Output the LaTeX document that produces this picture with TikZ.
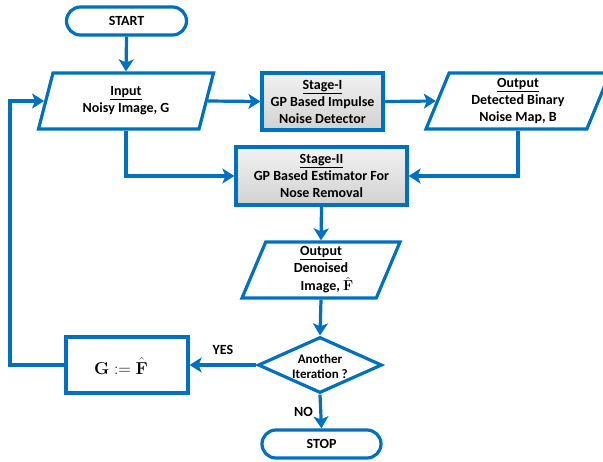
\documentclass[tikz,border=0pt]{standalone}
\usepackage[no-math]{fontspec}
\setmainfont{Carlito}
\usetikzlibrary{shapes.geometric,arrows.meta}
\definecolor{flowblue}{HTML}{0070C0}
\begin{document}
\begin{tikzpicture}[x=1pt,y=-1pt,
  every node/.style={font=\fontsize{14}{17}\selectfont\bfseries, text=black},
  base/.style={draw=flowblue, line width=3.2pt, inner sep=0pt, align=center},
  term/.style={base, rectangle, rounded corners=14pt, minimum width=120pt, minimum height=28pt},
  io/.style={base, trapezium, trapezium left angle=63, trapezium right angle=117,
     trapezium stretches body, minimum height=56pt},
  proc/.style={base, rectangle, top color=white!95!black, bottom color=white!82!black},
  plain/.style={base, rectangle, fill=white},
  decide/.style={base, diamond, minimum width=124pt, minimum height=56pt},
  conn/.style={draw=flowblue, line width=3.2pt, -{Stealth[length=12pt,width=15pt,inset=3pt]}},
  lbl/.style={font=\fontsize{14}{17}\selectfont\bfseries}
]
\useasboundingbox (0,0) rectangle (603,461);

\node[term] (start) at (126.5,21) {START};
\node[io, minimum width=175pt] (in) at (126,101) {\underline{Input}\\Noisy Image, G};
\node[proc, minimum width=121pt, minimum height=57pt] (s1) at (322.5,101.5) {\underline{Stage-I}\\GP Based Impulse\\Noise Detector};
\node[io, minimum width=184pt] (out1) at (518,101) {\underline{Output}\\Detected Binary\\Noise Map, B};
\node[proc, minimum width=171pt, minimum height=58pt] (s2) at (321.5,176) {\underline{Stage-II}\\GP Based Estimator For\\Nose Removal};
\node[io, minimum width=158pt] (out2) at (321,270) {\underline{Output}\\Denoised\\[1pt]\hspace{12pt}Image, $\hat{\mathbf{F}}$};
\node[decide] (dia) at (320,365) {};
\node[font=\fontsize{13}{15}\selectfont\bfseries, align=center] (diat) at (320,366) {Another\\Iteration ?};
\node[plain, minimum width=122pt, minimum height=56pt] (gbox) at (127,365) {};
\node[font=\fontsize{16}{19}\selectfont] (gtext) at (121,366) {$\mathbf{G}\mathrel{:=}\hat{\mathbf{F}}$};
\node[term, minimum width=119pt] (stop) at (321.5,444) {STOP};

\coordinate (lp) at (10,365);

\draw[conn] (start.south) -- (in.north);
\draw[conn] (in.right side) -- (s1.west);
\draw[conn] (s1.east) -- (out1.left side);
\draw[conn] (in.south) |- (s2.west);
\draw[conn] (out1.south) |- (s2.east);
\draw[conn] (s2.south) -- (out2.north);
\draw[conn] (out2.south) -- (dia.north);
\draw[conn] (dia.west) -- node[lbl, above=5pt] (yes) {YES} (gbox.east);
\draw[conn] (dia.south) -- node[lbl, left=3pt] (no) {NO} (stop.north);
\draw[conn] (gbox.west) -- (lp) |- (in.left side);
\end{tikzpicture}
\end{document}
